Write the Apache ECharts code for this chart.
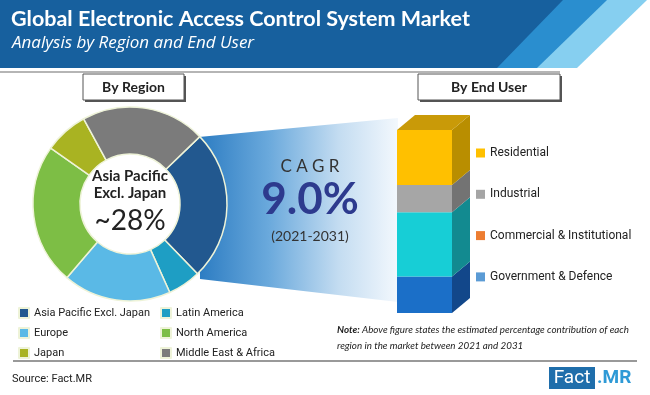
<!DOCTYPE html>
<html>
<head>
<meta charset="utf-8">
<script src="https://cdn.jsdelivr.net/npm/echarts@6/dist/echarts.min.js"></script>
<style>
html,body{margin:0;padding:0;background:#fff;}
#c{width:650px;height:395px;}
</style>
</head>
<body>
<div id="c"></div>
<script>
// ---- data ----
var regionNames = ['Asia Pacific Excl. Japan', 'Latin America', 'Europe', 'North America', 'Japan', 'Middle East & Africa'];
var regionValues = [25, 5.5, 18, 23.5, 7.3, 20.7];
var regionLegendCol1 = ['Asia Pacific Excl. Japan', 'Europe', 'Japan'];
var regionLegendCol2 = ['Latin America', 'North America', 'Middle East & Africa'];
var userNames = ['Government & Defence', 'Commercial & Institutional', 'Industrial', 'Residential']; // bottom to top
var userValues = [20, 35, 15, 30];
var userLegendOrder = ['Residential', 'Industrial', 'Commercial & Institutional', 'Government & Defence'];
var cagrValue = '9.0%';
var highlightShare = '~28%';

// ---- styles ----
var regionColors = ['#22588f', '#1e9ec4', '#5ab9e6', '#7dbe45', '#a9b322', '#7b7b7b'];
var userFront = ['#1b6fc8', '#17ced6', '#a6a6a6', '#ffc000'];
var userSide = ['#12478a', '#128a90', '#737373', '#b98e00'];
var userTop = '#c99a08';
var userLegendColors = {'Residential':'#ffc000','Industrial':'#a5a5a5','Commercial & Institutional':'#ed7d31','Government & Defence':'#5b9bd5'};

var DX = 18, DY = 15;
var totalUser = userValues.reduce(function(a,b){return a+b;},0);
var starts = [];
var acc = 0;
userValues.forEach(function(v){ starts.push(acc); acc += v; });

var chart = echarts.init(document.getElementById('c'), null, {renderer:'canvas'});

var userSeries = userNames.map(function(n, i){
  var isTop = i === userNames.length - 1;
  return {
    type: 'custom', name: n, xAxisIndex: 0, yAxisIndex: 0, z: 5,
    itemStyle: {color: userLegendColors[n]},
    data: [[starts[i], starts[i] + userValues[i]]],
    renderItem: function(params, api){
      var s = api.value(0), e = api.value(1);
      var p0 = api.coord([0, s]);
      var p1 = api.coord([1, e]);
      var children = [
        {type:'rect', shape:{x:p0[0], y:p1[1], width:p1[0]-p0[0], height:p0[1]-p1[1]}, style:{fill:userFront[i]}},
        {type:'polygon', shape:{points:[[p1[0],p1[1]],[p1[0]+DX,p1[1]-DY],[p1[0]+DX,p0[1]-DY],[p1[0],p0[1]]]}, style:{fill:userSide[i]}}
      ];
      if (isTop) {
        children.push({type:'polygon', shape:{points:[[p0[0],p1[1]],[p0[0]+DX,p1[1]-DY],[p1[0]+DX,p1[1]-DY],[p1[0],p1[1]]]}, style:{fill:userTop}});
      }
      return {type:'group', children: children};
    }
  };
});

var legendText = {color:'#222', fontSize:11, fontFamily:'Roboto'};

var option = {
  animation: false,
  backgroundColor: '#ffffff',
  grid: {left: 397, top: 130, width: 55, height: 183},
  xAxis: {type:'value', min:0, max:1, show:false},
  yAxis: {type:'value', min:0, max:totalUser, show:false},
  legend: [
    {orient:'vertical', left:18, top:307, padding:0, itemWidth:10, itemHeight:10, itemGap:8, icon:'rect', data: regionLegendCol1, textStyle: legendText, selectedMode:false},
    {orient:'vertical', left:160, top:307, padding:0, itemWidth:10, itemHeight:10, itemGap:8, icon:'rect', data: regionLegendCol2, textStyle: legendText, selectedMode:false},
    {orient:'vertical', left:476, top:147, padding:0, itemWidth:9, itemHeight:9, itemGap:29.3, icon:'rect',
      data: userLegendOrder.map(function(n){return {name:n, itemStyle:{color:userLegendColors[n]}};}),
      textStyle: {color:'#222', fontSize:12, fontFamily:'Roboto'}, selectedMode:false}
  ],
  graphic: [
    // header
    {type:'polygon', z:1, shape:{points:[[0,0],[647,0],[577,68],[0,68]]}, style:{fill:'#86cff0'}},
    {type:'polygon', z:1, shape:{points:[[0,0],[607,0],[537,68],[0,68]]}, style:{fill:'#2a8ecf'}},
    {type:'polygon', z:1, shape:{points:[[0,0],[563,0],[497,68],[0,68]]}, style:{fill:'#17609e'}},
    {type:'rect', z:1, shape:{x:0, y:71, width:560, height:2}, style:{fill:'#b5b5b5'}},
    {type:'text', z:2, left:11, top:8, style:{text:'Global Electronic Access Control System Market', fill:'#fff', font:'bold 21.5px Lato'}},
    {type:'text', z:2, left:12, top:35, style:{text:'Analysis by Region and End User', fill:'#fff', font:'italic 17px "Open Sans"'}},
    // funnel
    {type:'polygon', z:0, shape:{points:[[199,137],[398,118],[398,302],[200,279]]},
      style:{fill:{type:'linear', x:0, y:0, x2:1, y2:0, colorStops:[
        {offset:0, color:'#2c7cc2'},{offset:0.35, color:'#6aa9dc'},{offset:0.7, color:'#c3dcf1'},{offset:1, color:'#f3f8fd'}]}}},
    // section boxes
    {type:'rect', z:2, shape:{x:85, y:76, width:101, height:26}, style:{fill:'#555'}},
    {type:'rect', z:3, shape:{x:83, y:74, width:101, height:26}, style:{fill:'#fff', stroke:'#555', lineWidth:1}},
    {type:'text', z:4, x:133.5, y:87, style:{text:'By Region', fill:'#222', font:'bold 14px Lato', align:'center', verticalAlign:'middle'}},
    {type:'rect', z:2, shape:{x:420, y:76, width:142, height:26}, style:{fill:'#555'}},
    {type:'rect', z:3, shape:{x:418, y:74, width:142, height:26}, style:{fill:'#fff', stroke:'#555', lineWidth:1}},
    {type:'text', z:4, x:489, y:87, style:{text:'By End User', fill:'#222', font:'bold 14px Lato', align:'center', verticalAlign:'middle'}},
    // donut centre
    {type:'text', z:10, x:130, y:176, style:{text:'Asia Pacific', fill:'#222', font:'bold 15px Lato', align:'center', verticalAlign:'middle'}},
    {type:'text', z:10, x:130, y:193, style:{text:'Excl. Japan', fill:'#222', font:'bold 15px Lato', align:'center', verticalAlign:'middle'}},
    {type:'text', z:10, x:130, y:221, style:{text:highlightShare, fill:'#222', font:'28px Lato', align:'center', verticalAlign:'middle'}},
    // CAGR
    {type:'text', z:10, x:310, y:167, style:{text:'C A G R', fill:'#333', font:'17px Lato', align:'center', verticalAlign:'middle'}},
    {type:'text', z:10, x:310, y:200, style:{text:cagrValue, fill:'#2d3a8e', font:'bold 44px Lato', align:'center', verticalAlign:'middle'}},
    {type:'text', z:10, x:310, y:236, style:{text:'(2021-2031)', fill:'#333', font:'14px Lato', align:'center', verticalAlign:'middle'}},
    // note
    {type:'text', z:10, left:337, top:325, style:{rich:{b:{font:'italic bold 9.8px Lato', fill:'#222'}, n:{font:'italic 9.8px Lato', fill:'#222'}},
      text:'{b|Note:}{n| Above figure states the estimated percentage contribution of each}', fill:'#222'}},
    {type:'text', z:10, left:337, top:341, style:{text:'region in the market between 2021 and 2031', fill:'#222', font:'italic 9.8px Lato'}},
    // footer
    {type:'line', z:2, shape:{x1:13, y1:361, x2:637, y2:361}, style:{stroke:'#777', lineWidth:1.5}},
    {type:'text', z:10, left:12, top:374, style:{text:'Source: Fact.MR', fill:'#222', font:'11px Roboto'}},
    {type:'rect', z:2, shape:{x:549, y:367, width:46, height:22}, style:{fill:'#1f6eab'}},
    {type:'text', z:10, x:572, y:378, style:{text:'Fact', fill:'#fff', font:'19px Roboto', align:'center', verticalAlign:'middle'}},
    {type:'text', z:10, left:597, y:378, style:{text:'.MR', fill:'#2f9ad6', font:'bold 19px Roboto', verticalAlign:'middle'}}
  ],
  series: [
    {type:'pie', name:'Region', z:5, center:[130,204], radius:[50,97], startAngle:44, clockwise:true,
      label:{show:false}, labelLine:{show:false}, silent:true,
      itemStyle:{borderColor:'#eef3d8', borderWidth:1.5},
      data: regionNames.map(function(n,i){return {name:n, value:regionValues[i], itemStyle:{color:regionColors[i]}};})}
  ].concat(userSeries)
};
chart.setOption(option);
</script>
</body>
</html>
